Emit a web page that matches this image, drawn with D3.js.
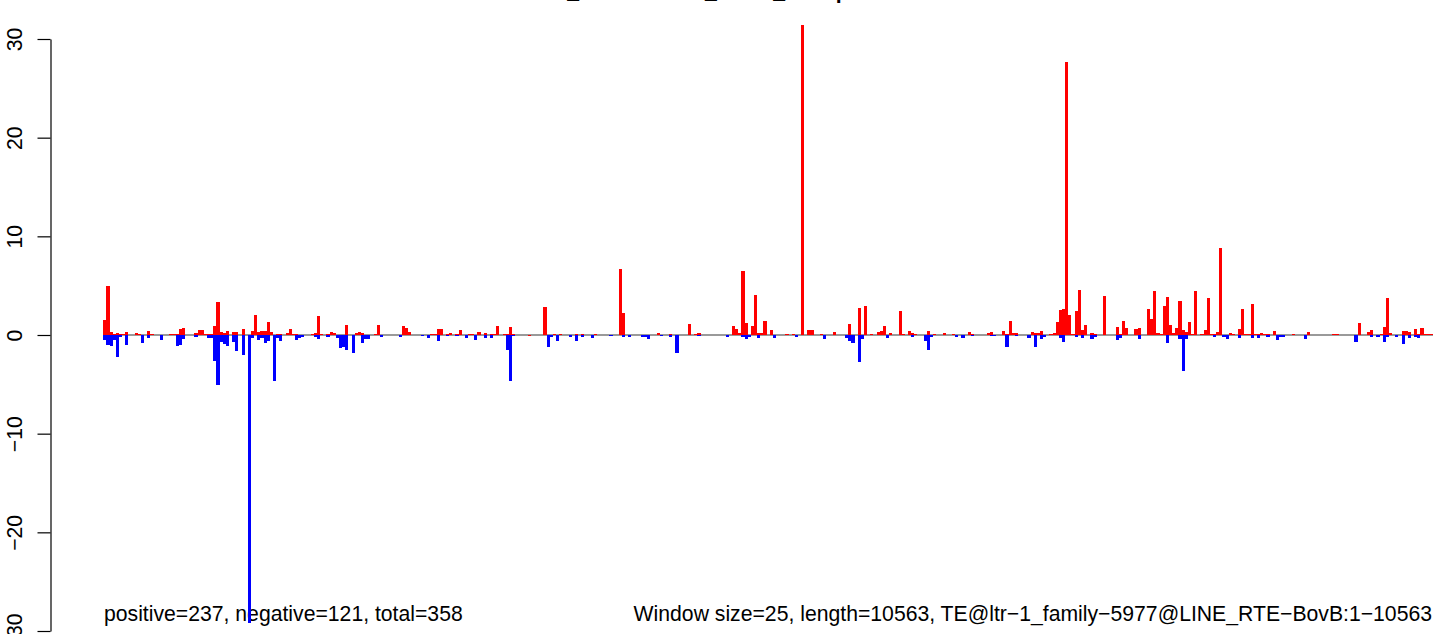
<!DOCTYPE html>
<html><head><meta charset="utf-8">
<script src="https://cdn.jsdelivr.net/npm/d3@7"></script>
<style>
body{margin:0;background:#fff;}
svg{display:block;}
text{font-family:"Liberation Sans",Arial,Helvetica,sans-serif;}
</style>
</head><body>
<svg id="chart" width="1449" height="634"></svg>
<script>
// ---- data ----
const chartTitle = "Dmel_SomaticKO1_Set12_GroupA.TE.norm.RPM1";
const windowSize = 25;
const seqLength = 10563;
const nWindows = 423;
const yTicks = [-30, -20, -10, 0, 10, 20, 30];
const leftNote = "positive=237, negative=121, total=358";
const rightNote = "Window size=25, length=10563, TE@ltr\u22121_family\u22125977@LINE_RTE\u2212BovB:1\u221210563";

// [window index, value]
const positive = [
 [0,1.5],[1,5.0],[2,0.3],[3,0.15],[4,0.2],[5,0.1],[6,0.1],[7,0.3],[10,0.2],[11,0.1],
 [14,0.4],[15,0.1],[21,0.1],[22,0.1],[23,0.1],[24,0.6],[25,0.7],[29,0.2],[30,0.5],[31,0.5],
 [32,0.1],[33,0.1],[34,0.1],[35,0.9],[36,3.3],[37,0.3],[38,0.2],[39,0.4],[41,0.3],[42,0.3],
 [44,0.6],[47,0.4],[48,2.0],[49,0.3],[50,0.4],[51,0.4],[52,1.3],[53,0.3],[55,0.1],[56,0.1],
 [58,0.2],[59,0.6],[60,0.15],[61,0.15],[66,0.1],[67,0.2],[68,1.9],[69,0.1],[71,0.1],[72,0.3],
 [73,0.2],[77,1.0],[80,0.2],[81,0.3],[82,0.2],[86,0.1],[87,1.0],[95,0.9],[96,0.7],[97,0.3],
 [104,0.1],[105,0.1],[106,0.6],[107,0.6],[109,0.1],[110,0.2],[112,0.1],[113,0.5],[116,0.1],[117,0.1],
 [119,0.3],[121,0.2],[123,0.1],[124,0.1],[125,0.9],[127,0.1],[128,0.1],[129,0.8],[130,0.1],[135,0.05],
 [140,2.8],[143,0.1],[145,0.1],[150,0.1],[152,0.1],[156,0.1],[164,6.7],[165,2.2],[176,0.2],[180,0.1],
 [186,1.1],[188,0.1],[189,0.2],[200,0.9],[201,0.6],[202,0.2],[203,6.5],[204,1.2],[206,0.9],[207,4.05],
 [208,0.2],[209,0.2],[210,1.4],[212,0.5],[217,0.1],[219,0.1],[222,31.4],[224,0.5],[225,0.5],[228,0.1],
 [232,0.3],[237,1.1],[240,2.7],[242,2.9],[244,0.1],[246,0.3],[247,0.4],[248,0.9],[250,0.2],[253,2.4],
 [254,0.1],[256,0.4],[257,0.2],[258,0.1],[262,0.4],[264,0.1],[267,0.2],[270,0.1],[275,0.3],[276,0.1],
 [281,0.2],[282,0.3],[286,0.4],[287,0.1],[288,1.4],[289,0.2],[290,0.2],[295,0.3],[296,0.2],[297,0.2],
 [298,0.4],[301,0.1],[302,0.2],[303,1.3],[304,2.5],[305,2.6],[306,27.7],[307,2.0],[308,0.1],[309,2.4],
 [310,4.6],[311,0.5],[312,1.0],[314,0.2],[315,0.1],[318,3.95],[322,0.8],[323,0.1],[324,1.4],[325,0.7],
 [328,0.6],[329,0.7],[332,2.6],[333,1.6],[334,4.5],[335,0.2],[336,0.1],[337,2.9],[338,3.85],[339,1.0],
 [340,0.2],[341,0.7],[342,3.45],[343,0.5],[344,0.3],[345,1.3],[346,0.1],[347,4.5],[349,0.1],[350,0.5],
 [351,3.75],[352,0.1],[353,0.1],[354,0.3],[355,8.8],[358,0.2],[359,0.1],[361,0.6],[362,2.6],[363,0.1],
 [364,0.1],[365,3.1],[366,0.1],[367,0.1],[368,0.2],[369,0.1],[370,0.1],[372,0.4],[378,0.1],[383,0.3],
 [391,0.1],[392,0.1],[399,1.2],[402,0.3],[403,0.5],[406,0.1],[407,0.8],[408,3.75],[409,0.2],[413,0.4],
 [414,0.4],[415,0.3],[417,0.6],[418,0.1],[419,0.7],[420,0.1],[421,0.1],[422,0.1]
];
const negative = [
 [0,-0.5],[1,-1.0],[2,-1.1],[3,-0.5],[4,-2.2],[5,-0.2],[7,-1.0],[12,-0.8],[14,-0.3],[18,-0.5],
 [23,-1.1],[24,-1.0],[25,-0.4],[29,-0.2],[33,-0.3],[34,-0.3],[35,-2.6],[36,-5.1],[37,-0.7],[38,-0.9],
 [39,-1.1],[41,-0.7],[42,-1.6],[44,-2.0],[46,-29.2],[47,-0.3],[49,-0.5],[50,-0.3],[51,-0.8],[52,-0.6],
 [54,-4.7],[55,-0.3],[56,-0.6],[61,-0.5],[62,-0.3],[63,-0.2],[67,-0.2],[68,-0.4],[71,-0.2],[74,-0.3],
 [75,-1.3],[76,-1.2],[77,-1.5],[79,-1.8],[82,-0.8],[83,-0.4],[84,-0.4],[88,-0.2],[94,-0.2],[101,-0.1],
 [103,-0.3],[106,-0.6],[109,-0.1],[112,-0.1],[115,-0.3],[118,-0.5],[121,-0.3],[123,-0.3],[128,-1.5],[129,-4.7],
 [130,-0.1],[141,-1.2],[142,-0.2],[144,-0.6],[148,-0.2],[150,-0.6],[152,-0.2],[155,-0.3],[161,-0.1],[165,-0.2],
 [167,-0.2],[171,-0.2],[172,-0.2],[173,-0.4],[177,-0.1],[180,-0.2],[182,-1.8],[189,-0.1],[198,-0.2],[203,-0.2],
 [204,-0.4],[205,-0.2],[208,-0.3],[213,-0.3],[220,-0.2],[229,-0.4],[236,-0.3],[237,-0.6],[238,-0.8],[240,-2.7],
 [241,-0.4],[249,-0.3],[257,-0.2],[261,-0.6],[262,-1.5],[263,-0.2],[271,-0.2],[273,-0.3],[276,-0.1],[282,-0.1],
 [283,-0.1],[287,-1.2],[290,-0.1],[294,-0.3],[296,-1.2],[298,-0.4],[299,-0.2],[304,-0.3],[305,-0.7],[309,-0.2],
 [311,-0.3],[314,-0.4],[315,-0.2],[322,-0.5],[323,-0.3],[329,-0.4],[338,-0.8],[342,-0.4],[343,-3.6],[344,-0.4],
 [353,-0.2],[356,-0.2],[357,-0.4],[361,-0.3],[365,-0.3],[367,-0.3],[370,-0.2],[373,-0.5],[374,-0.2],[375,-0.2],
 [382,-0.4],[398,-0.7],[403,-0.2],[405,-0.2],[407,-0.7],[408,-0.2],[411,-0.2],[413,-0.9],[415,-0.3],[417,-0.2],
 [418,-0.3]
];

// ---- drawing ----
const svg = d3.select("#chart");
const x = d3.scaleLinear().domain([0, nWindows * windowSize]).range([103.3, 1433]);
const y = d3.scaleLinear().domain([-30, 30]).range([631, 39]);
const fontSize = 21.2;

// title (mostly above the visible area)
svg.append("text")
  .attr("x", 768).attr("y", -2.5)
  .attr("text-anchor", "middle")
  .attr("font-weight", "bold")
  .attr("font-size", fontSize)
  .text(chartTitle);

// y axis
const axis = d3.axisLeft(y).tickValues(yTicks).tickSize(13).tickSizeOuter(0)
  .tickFormat(d3.format("d"));
const gAxis = svg.append("g").attr("transform", "translate(50.5,0)").call(axis);
gAxis.select(".domain").attr("stroke", "#000").attr("stroke-width", 1.2);
gAxis.selectAll(".tick line").attr("stroke", "#000").attr("stroke-width", 1.2);
gAxis.selectAll(".tick text")
  .attr("transform", "rotate(-90)")
  .attr("x", 0).attr("y", -28.8).attr("dy", 0)
  .attr("text-anchor", "middle")
  .attr("fill", "#000")
  .attr("font-size", fontSize)
  .attr("font-family", "'Liberation Sans',Arial,Helvetica,sans-serif");

// zero line
svg.append("line")
  .attr("x1", x(0)).attr("x2", x(nWindows * windowSize))
  .attr("y1", y(0)).attr("y2", y(0))
  .attr("stroke", "#9a9a9a").attr("stroke-width", 2);

// notes
svg.append("text").attr("x", 104).attr("y", 621)
  .attr("font-size", fontSize).attr("fill", "#000").text(leftNote);
svg.append("text").attr("x", 1432).attr("y", 621).attr("text-anchor", "end")
  .attr("font-size", fontSize).attr("fill", "#000").text(rightNote);

// bars
function drawBars(data, color) {
  svg.append("g").attr("shape-rendering", "crispEdges")
    .selectAll("rect").data(data).join("rect")
    .attr("x", d => x(d[0] * windowSize))
    .attr("width", d => x((d[0] + 1) * windowSize) - x(d[0] * windowSize))
    .attr("y", d => Math.min(y(0), y(d[1])))
    .attr("height", d => Math.max(1, Math.abs(y(d[1]) - y(0))))
    .attr("fill", color);
}
drawBars(positive, "#ff0000");
drawBars(negative, "#0000ff");
</script>
</body></html>
